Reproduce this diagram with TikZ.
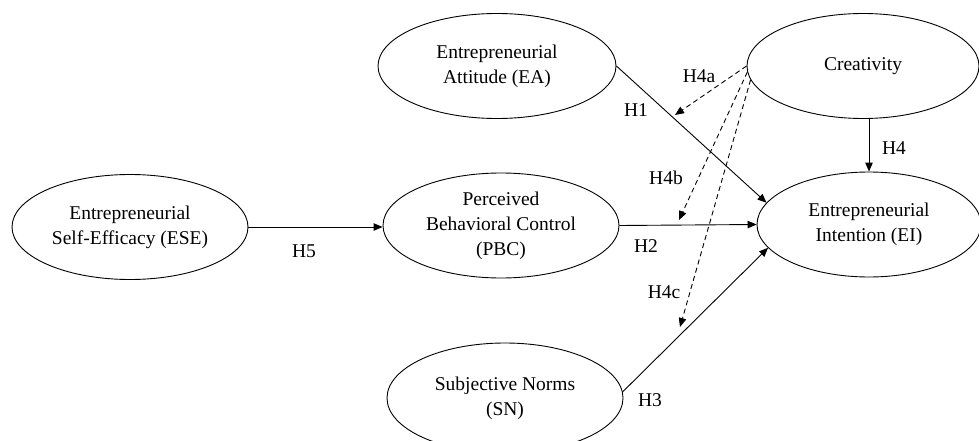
\documentclass[tikz,border=0pt]{standalone}
\usepackage{fontspec}
\setmainfont{Liberation Serif}
\usetikzlibrary{shapes.geometric,arrows.meta}
\begin{document}
\begin{tikzpicture}[x=1pt,y=-1pt,
  construct/.style={ellipse,draw,line width=0.9pt,inner sep=0pt,align=center,
    font=\fontsize{19.5}{25}\selectfont},
  lbl/.style={inner sep=0pt,font=\fontsize{19.5}{25}\selectfont},
  path/.style={line width=0.9pt,-{Triangle[length=9pt,width=7.5pt]}},
  modpath/.style={path,dash pattern=on 5pt off 3.5pt}]
\clip (0,0) rectangle (979,441);
\useasboundingbox (0,0) rectangle (979,441);
\node[construct,minimum width=238pt,minimum height=105pt] (EA) at (497,66) {Entrepreneurial\\Attitude (EA)};
\node[construct,minimum width=232pt,minimum height=105pt] (Cr) at (863,66) {Creativity};
\node[construct,minimum width=236pt,minimum height=105pt] (ESE) at (130,227) {Entrepreneurial\\Self-Efficacy (ESE)};
\node[construct,minimum width=236pt,minimum height=105pt] (PBC) at (501,225.5) {Perceived\\Behavioral Control\\(PBC)};
\node[construct,minimum width=224pt,minimum height=105pt] (EI) at (869,224.5) {Entrepreneurial\\Intention (EI)};
\node[construct,minimum width=236pt,minimum height=110pt] (SN) at (505,398) {Subjective Norms\\(SN)};
\coordinate (m1) at (675,115);
\coordinate (m2) at (679,220);
\coordinate (m3) at (680,327);
\draw[path] (ESE.east) -- (ESE.east -| PBC.west);
\draw[path] (PBC.east) -- (EI.west);
\draw[path] (EA.east) -- (EI.168);
\draw[path] (SN.3) -- (EI.193);
\draw[path] (EI.north |- Cr.south) -- (EI.north);
\draw[modpath] (Cr.west) -- (m1);
\draw[modpath] (Cr.183) -- (m2);
\draw[modpath] (Cr.187) -- (m3);
\node[lbl] (l1) at (636,110) {H1};
\node[lbl] (l4a) at (699,76) {H4a};
\node[lbl] (l4b) at (666,178) {H4b};
\node[lbl] (l2) at (646,246) {H2};
\node[lbl] (l4c) at (664,292) {H4c};
\node[lbl] (l3) at (650,400) {H3};
\node[lbl] (l5) at (304,251) {H5};
\node[lbl] (l4) at (894,148) {H4};
\end{tikzpicture}
\end{document}
